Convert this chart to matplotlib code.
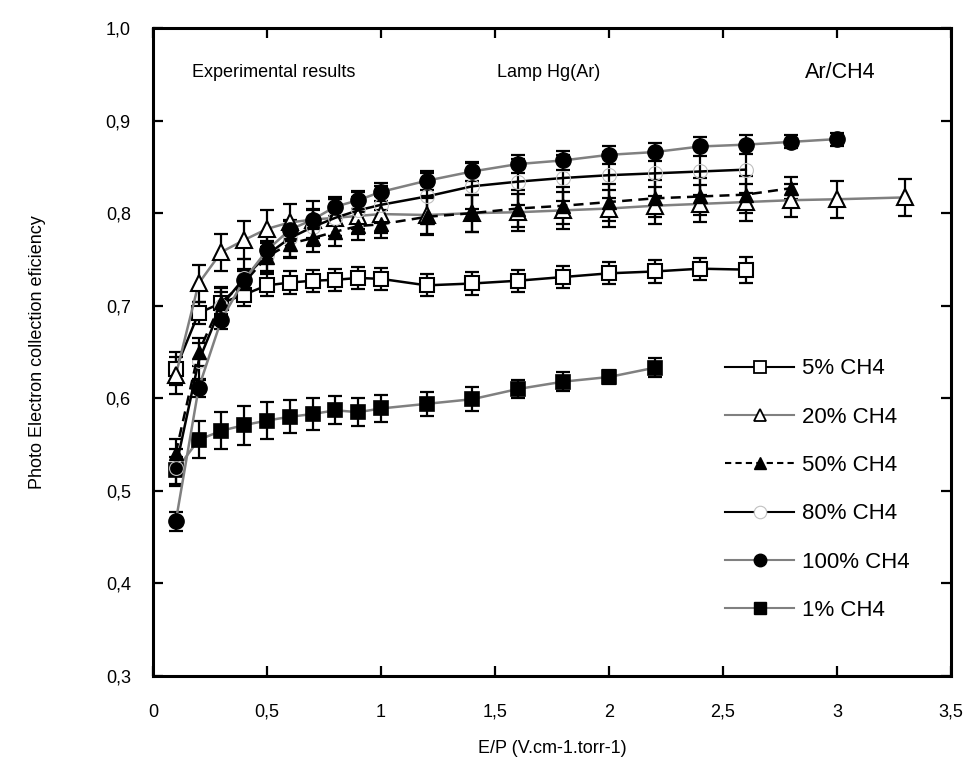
import matplotlib
matplotlib.use("Agg")
import matplotlib.pyplot as plt
from matplotlib.lines import Line2D
from matplotlib.ticker import FuncFormatter

plt.rcParams['font.family'] = ['Liberation Sans', 'DejaVu Sans']

# ---------------- data ----------------
x_5 = [0.1, 0.2, 0.3, 0.4, 0.5, 0.6, 0.7, 0.8, 0.9, 1.0, 1.2, 1.4, 1.6, 1.8, 2.0, 2.2, 2.4, 2.6]
y_5 = [0.632, 0.692, 0.703, 0.712, 0.722, 0.725, 0.727, 0.728, 0.730, 0.729, 0.722, 0.724, 0.727, 0.731, 0.735, 0.737, 0.740, 0.739]
e_5 = [0.018, 0.012, 0.012, 0.012, 0.012, 0.012, 0.012, 0.012, 0.012, 0.012, 0.012, 0.012, 0.012, 0.012, 0.012, 0.012, 0.012, 0.014]

x_20 = [0.1, 0.2, 0.3, 0.4, 0.5, 0.6, 0.7, 0.8, 0.9, 1.0, 1.2, 1.4, 1.6, 1.8, 2.0, 2.2, 2.4, 2.6, 2.8, 3.0, 3.3]
y_20 = [0.625, 0.724, 0.758, 0.771, 0.783, 0.790, 0.793, 0.795, 0.797, 0.799, 0.798, 0.800, 0.801, 0.803, 0.805, 0.808, 0.810, 0.812, 0.814, 0.815, 0.817]
e_20 = [0.02, 0.02, 0.02, 0.02, 0.02, 0.02, 0.02, 0.02, 0.02, 0.02, 0.02, 0.02, 0.02, 0.02, 0.02, 0.02, 0.02, 0.02, 0.018, 0.02, 0.02]

x_50 = [0.1, 0.2, 0.3, 0.4, 0.5, 0.6, 0.7, 0.8, 0.9, 1.0, 1.2, 1.4, 1.6, 1.8, 2.0, 2.2, 2.4, 2.6, 2.8]
y_50 = [0.541, 0.650, 0.704, 0.725, 0.753, 0.767, 0.773, 0.780, 0.786, 0.788, 0.796, 0.800, 0.805, 0.808, 0.812, 0.816, 0.818, 0.820, 0.827]
e_50 = [0.015, 0.015, 0.015, 0.015, 0.015, 0.015, 0.015, 0.015, 0.015, 0.015, 0.02, 0.02, 0.02, 0.02, 0.02, 0.02, 0.02, 0.02, 0.012]

x_80 = [0.1, 0.2, 0.3, 0.4, 0.5, 0.6, 0.7, 0.8, 0.9, 1.0, 1.2, 1.4, 1.6, 1.8, 2.0, 2.2, 2.4, 2.6]
y_80 = [0.525, 0.640, 0.700, 0.730, 0.755, 0.773, 0.785, 0.795, 0.803, 0.809, 0.818, 0.829, 0.834, 0.838, 0.841, 0.843, 0.845, 0.847]
e_80 = [0.02, 0.02, 0.02, 0.02, 0.02, 0.02, 0.02, 0.02, 0.02, 0.02, 0.025, 0.025, 0.025, 0.025, 0.025, 0.025, 0.025, 0.025]

x_100 = [0.1, 0.2, 0.3, 0.4, 0.5, 0.6, 0.7, 0.8, 0.9, 1.0, 1.2, 1.4, 1.6, 1.8, 2.0, 2.2, 2.4, 2.6, 2.8, 3.0]
y_100 = [0.467, 0.611, 0.685, 0.728, 0.760, 0.782, 0.793, 0.807, 0.814, 0.823, 0.835, 0.845, 0.853, 0.857, 0.863, 0.866, 0.872, 0.874, 0.877, 0.880]
e_100 = [0.01, 0.01, 0.01, 0.01, 0.01, 0.01, 0.01, 0.01, 0.01, 0.01, 0.01, 0.01, 0.01, 0.01, 0.01, 0.01, 0.01, 0.01, 0.007, 0.007]

x_1 = [0.1, 0.2, 0.3, 0.4, 0.5, 0.6, 0.7, 0.8, 0.9, 1.0, 1.2, 1.4, 1.6, 1.8, 2.0, 2.2]
y_1 = [0.522, 0.555, 0.565, 0.571, 0.576, 0.580, 0.583, 0.587, 0.585, 0.589, 0.594, 0.599, 0.610, 0.618, 0.623, 0.633]
e_1 = [0.015, 0.02, 0.02, 0.021, 0.02, 0.018, 0.017, 0.015, 0.015, 0.015, 0.013, 0.013, 0.01, 0.01, 0.008, 0.01]

labels = ["5% CH4", "20% CH4", "50% CH4", "80% CH4", "100% CH4", "1% CH4"]
x_ticks = [0, 0.5, 1, 1.5, 2, 2.5, 3, 3.5]
y_ticks = [0.3, 0.4, 0.5, 0.6, 0.7, 0.8, 0.9, 1.0]

# ---------------- figure ----------------
fig = plt.figure(figsize=(9.65, 7.65), dpi=100)
ax = fig.add_axes([153 / 965, (765 - 676) / 765, 798 / 965, 648 / 765])

GREY = '#808080'
err_kw = dict(ecolor='black', elinewidth=1.6, capsize=5, capthick=1.6)

styles = [
    dict(x=x_1, y=y_1, e=e_1, color=GREY, ls='-', marker='s', mfc='black', mec='black', ms=10, mew=1.2),
    dict(x=x_5, y=y_5, e=e_5, color='black', ls='-', marker='s', mfc='white', mec='black', ms=10, mew=1.5),
    dict(x=x_20, y=y_20, e=e_20, color=GREY, ls='-', marker='^', mfc='white', mec='black', ms=11, mew=1.5),
    dict(x=x_80, y=y_80, e=e_80, color='black', ls='-', marker='o', mfc='none', mec='#c0c0c0', ms=10, mew=0.8),
    dict(x=x_50, y=y_50, e=e_50, color='black', ls=(0, (4, 2.5)), marker='^', mfc='black', mec='black', ms=10, mew=1.0),
    dict(x=x_100, y=y_100, e=e_100, color=GREY, ls='-', marker='o', mfc='black', mec='black', ms=11, mew=1.0),
]

for s in styles:
    ax.errorbar(s['x'], s['y'], yerr=s['e'], fmt='none', **err_kw, zorder=2)
    ax.plot(s['x'], s['y'], color=s['color'], ls=s['ls'], lw=1.8,
            marker=s['marker'], mfc=s['mfc'], mec=s['mec'], ms=s['ms'], mew=s['mew'], zorder=3)

ax.set_xlim(0, 3.5)
ax.set_ylim(0.3, 1.0)
ax.set_xticks(x_ticks)
ax.set_yticks(y_ticks)


def fmt_x(v, pos):
    return ('%g' % v).replace('.', ',')


def fmt_y(v, pos):
    return ('%.1f' % v).replace('.', ',')


ax.xaxis.set_major_formatter(FuncFormatter(fmt_x))
ax.yaxis.set_major_formatter(FuncFormatter(fmt_y))
ax.tick_params(direction='in', length=7, width=1.6, labelsize=13, top=True, right=True,
               labeltop=False, labelright=False)
ax.tick_params(axis='x', pad=20)
ax.tick_params(axis='y', pad=16)
for sp in ax.spines.values():
    sp.set_linewidth(2.2)

narrow = ['Liberation Sans Narrow', 'Liberation Sans', 'DejaVu Sans']
ax.set_xlabel("E/P (V.cm-1.torr-1)", fontsize=13, family=narrow, labelpad=14)
ax.set_ylabel("Photo Electron collection eficiency", fontsize=13, family=narrow, labelpad=43)

ax.text(0.17, 0.952, "Experimental results", fontsize=13, family=narrow, va='center', ha='left')
ax.text(1.51, 0.952, "Lamp Hg(Ar)", fontsize=13, family=narrow, va='center', ha='left')
ax.text(2.86, 0.952, "Ar/CH4", fontsize=15.5, family=narrow, va='center', ha='left')

handles = [
    Line2D([], [], color='black', lw=1.5, marker='s', mfc='white', mec='black', ms=9, mew=1.3),
    Line2D([], [], color=GREY, lw=1.5, marker='^', mfc='white', mec='black', ms=9, mew=1.3),
    Line2D([], [], color='black', lw=1.5, ls=(0, (3, 2)), marker='^', mfc='black', mec='black', ms=9),
    Line2D([], [], color='black', lw=1.5, marker='o', mfc='white', mec='#c0c0c0', ms=9, mew=0.8),
    Line2D([], [], color=GREY, lw=1.5, marker='o', mfc='black', mec='black', ms=9),
    Line2D([], [], color=GREY, lw=1.5, marker='s', mfc='black', mec='black', ms=9),
]
ax.legend(handles, labels, loc='upper left', bbox_to_anchor=(0.717, 0.49), frameon=False,
          fontsize=16, handlelength=3.1, handletextpad=0.36, labelspacing=1.23,
          borderaxespad=0, borderpad=0)

fig.savefig("out.png", dpi=100)
